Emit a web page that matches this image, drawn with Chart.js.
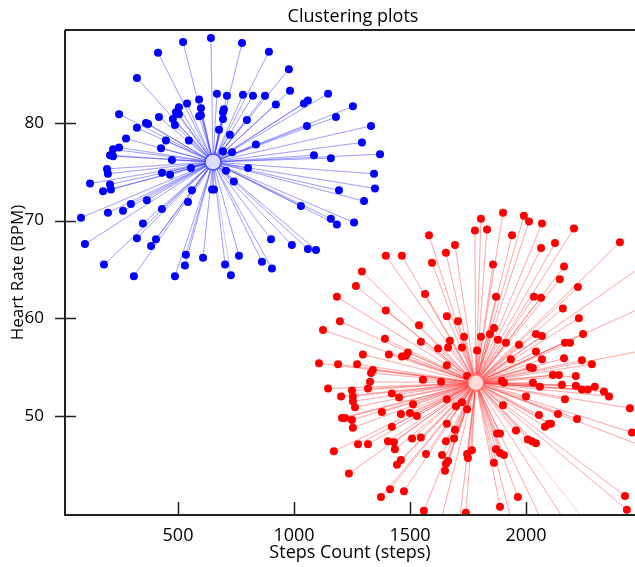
<!DOCTYPE html>
<html lang="en">
<head>
<meta charset="UTF-8">
<title>Clustering plots</title>
<script src="https://cdn.jsdelivr.net/npm/chart.js"></script>
<style>
    body { margin: 0; padding: 0; background: #fff; }
    #chart { display: block; }
</style>
</head>
<body>
<canvas id="chart" width="635" height="567"></canvas>
<script>
    // cluster 1 (blue)
    const blueSteps = [522,642,414,323,668,539,591,599,504,491,
        504,478,487,418,362,371,323,246,591,599,
        677,448,547,276,246,220,427,207,220,474,
        776,892,978,711,780,823,875,983,1147,922,
        1043,1060,1254,698,694,694,797,1181,1056,1332,
        724,836,1293,694,733,1086,1159,1371,194,198,
        431,466,556,121,207,211,177,560,647,655,
        366,297,543,198,263,431,82,349,323,405,
        384,99,534,608,530,181,310,487,802,707,
        1345,741,1349,1194,1302,1030,1159,1185,1259,901,
        991,1060,1095,763,703,862,905,728];
    const blueHeart = [88.3,88.7,87.2,84.6,83.0,82.0,82.4,81.5,81.6,81.1,
        80.9,80.4,79.8,80.6,80.0,79.9,79.5,80.9,80.7,80.8,
        79.3,78.2,78.2,78.4,77.5,77.3,77.4,76.7,76.6,76.2,
        88.2,87.3,85.5,82.8,82.9,82.8,82.8,83.3,83.0,81.9,
        82.0,82.3,81.7,81.4,81.1,80.4,80.3,80.6,79.7,79.7,
        78.8,77.8,78.0,77.1,77.0,76.7,76.4,76.8,75.3,74.8,
        74.9,74.7,75.4,73.8,73.7,73.2,73.0,73.1,73.2,73.2,
        72.1,71.7,71.9,70.8,71.0,71.2,70.3,69.7,68.2,68.1,
        67.4,67.6,66.5,66.2,65.4,65.5,64.3,64.3,75.4,75.1,
        74.8,74.0,73.3,73.1,72.0,71.5,70.2,69.6,69.8,68.1,
        67.5,67.1,67.0,66.4,65.5,65.8,65.1,64.4];

    // cluster 2 (red), a few fall outside the axes
    const redSteps = [1582,1694,1655,1595,1396,1465,1293,1267,1185,1565,
        1396,1659,1707,1198,1125,1539,1733,1392,1547,1672,
        1621,1664,1724,1297,1409,1465,1483,1491,1901,1806,
        1780,1832,1991,2013,2069,1940,2207,2125,2065,2405,
        1858,2164,2146,2224,1871,2034,2065,2159,2228,1862,
        1845,1806,1879,1914,1970,2043,2069,2246,2168,2190,
        1789,2043,2069,1935,2164,2241,1108,1190,1272,1659,
        1340,1332,1328,1556,1634,1746,1147,1319,1250,1254,
        1203,1254,1263,1422,1453,1659,1513,1698,1724,1746,
        1379,1461,1500,1530,1207,1220,1250,1254,1422,1659,
        1694,1509,1547,1690,1655,1405,1431,1276,1319,1435,
        1172,1569,1638,1746,1750,1461,1444,1664,1655,1651,
        1237,1414,1474,1375,1560,1741,2284,2017,2030,2116,
        2142,2215,1896,1905,2030,2060,2155,2215,2241,2267,
        2297,2336,2358,2000,2168,1901,2448,2056,2138,2220,
        2082,2099,2108,1957,1875,1888,2457,2008,2026,2043,
        1871,1767,1888,1905,1862,1965,1888,2427,2435,
        2660,2660,2660,2660,1612,1702,1957,2110,2213,2330];
    const redHeart = [68.5,67.5,66.7,65.7,66.4,66.4,64.8,63.3,62.2,62.5,
        60.8,60.2,59.7,59.7,58.8,59.3,58.1,57.9,57.6,57.7,
        56.9,57.0,57.0,56.3,56.3,56.1,56.2,56.5,70.8,70.2,
        69.0,69.1,70.5,69.9,69.7,68.5,69.2,67.7,67.2,67.8,
        65.5,65.3,64.0,63.2,62.2,62.2,62.1,61.0,60.0,59.0,
        58.4,58.1,57.8,57.5,57.3,58.4,58.2,58.4,57.5,57.5,
        56.7,56.6,55.8,55.8,55.9,55.7,55.4,55.3,55.3,55.2,
        54.7,54.4,53.5,53.7,53.5,54.1,52.8,52.8,52.6,52.0,
        52.0,51.5,50.9,52.3,51.9,51.7,51.2,51.0,51.4,50.7,
        50.4,50.2,50.3,50.0,49.8,49.8,49.6,48.8,48.9,49.2,
        48.6,47.7,47.8,47.7,47.4,47.4,47.3,47.1,47.1,46.6,
        46.4,46.1,46.0,46.1,45.7,45.5,45.0,45.4,45.1,44.4,
        44.1,42.5,42.3,41.7,40.3,40.1,55.3,55.0,54.9,54.2,
        54.2,54.1,53.6,53.4,53.4,53.0,53.2,53.1,52.7,52.7,
        53.0,52.5,52.0,52.0,51.7,51.1,50.8,50.1,50.2,49.7,
        48.9,49.2,49.2,48.5,48.2,48.2,48.3,47.6,47.4,47.2,
        46.6,46.5,46.2,46.0,45.2,41.7,40.7,41.8,40.4,
        68.0,62.8,57.4,45.5,37.3,37.0,37.5,37.2,37.6,37.0];

    const centroidSteps = [651, 1784];
    const centroidHeart = [76.0, 53.4];

    const xTicks = [500, 1000, 1500, 2000];
    const yTicks = [50, 60, 70, 80];

    function points(xs, ys) {
        return xs.map((x, i) => ({ x: x, y: ys[i] }));
    }

    // centre -> point -> centre -> point ... gives the spokes
    function spokes(xs, ys, k) {
        const c = { x: centroidSteps[k], y: centroidHeart[k] };
        const out = [];
        xs.forEach((x, i) => { out.push(c); out.push({ x: x, y: ys[i] }); });
        return out;
    }

    Chart.defaults.font.family = '"Open Sans", sans-serif';
    Chart.defaults.font.size = 18;
    Chart.defaults.color = '#000';

    const frame = {
        id: 'frame',
        afterDatasetsDraw(chart) {
            const { ctx, chartArea: a, scales } = chart;
            ctx.save();
            ctx.strokeStyle = '#222';
            ctx.lineWidth = 2;
            ctx.beginPath();
            ctx.moveTo(a.left, a.top); ctx.lineTo(a.right, a.top);
            ctx.moveTo(a.left, a.top); ctx.lineTo(a.left, a.bottom);
            ctx.moveTo(a.left - 1, a.bottom); ctx.lineTo(a.right, a.bottom);
            ctx.stroke();
            ctx.lineWidth = 1.5;
            ctx.beginPath();
            scales.x.ticks.forEach(t => {
                const px = Math.round(scales.x.getPixelForValue(t.value)) + 0.5;
                ctx.moveTo(px, a.bottom - 13); ctx.lineTo(px, a.bottom);
            });
            scales.y.ticks.forEach(t => {
                const py = Math.round(scales.y.getPixelForValue(t.value)) + 0.5;
                ctx.moveTo(a.left - 10, py); ctx.lineTo(a.left + 11, py);
            });
            ctx.stroke();
            ctx.restore();
        },
        afterDraw(chart) {
            const { ctx, chartArea: a } = chart;
            ctx.save();
            ctx.font = '18px "Open Sans", sans-serif';
            ctx.fillStyle = '#000';
            ctx.textAlign = 'center';
            ctx.textBaseline = 'middle';
            ctx.fillText('Clustering plots', (a.left + a.right) / 2 + 3, 17);
            ctx.restore();
        }
    };

    new Chart(document.getElementById('chart'), {
        type: 'scatter',
        data: {
            datasets: [
                {
                    label: 'centroids',
                    data: points(centroidSteps, centroidHeart),
                    pointRadius: 8,
                    pointBorderWidth: 1.5,
                    backgroundColor: ['#dcdcff', '#ffd8d8'],
                    borderColor: ['#4a4aff', '#ff6a6a'],
                    order: 0
                },
                {
                    label: 'cluster 1',
                    data: points(blueSteps, blueHeart),
                    pointRadius: 4,
                    pointBorderWidth: 0,
                    backgroundColor: '#0000ff',
                    borderColor: '#0000ff',
                    order: 1
                },
                {
                    label: 'cluster 2',
                    data: points(redSteps, redHeart),
                    pointRadius: 4,
                    pointBorderWidth: 0,
                    backgroundColor: '#ff0000',
                    borderColor: '#ff0000',
                    order: 1
                },
                {
                    label: 'spokes 1',
                    data: spokes(blueSteps, blueHeart, 0),
                    showLine: true,
                    pointRadius: 0,
                    borderWidth: 1,
                    borderColor: 'rgba(60,60,255,0.28)',
                    order: 2
                },
                {
                    label: 'spokes 2',
                    data: spokes(redSteps, redHeart, 1),
                    showLine: true,
                    pointRadius: 0,
                    borderWidth: 1,
                    borderColor: 'rgba(255,60,60,0.25)',
                    order: 2
                }
            ]
        },
        options: {
            responsive: false,
            animation: false,
            layout: { autoPadding: false, padding: { top: 30, right: 0, left: 0, bottom: 0 } },
            plugins: {
                legend: { display: false },
                tooltip: { enabled: false }
            },
            scales: {
                x: {
                    min: 13,
                    max: 2470,
                    afterBuildTicks: s => { s.ticks = xTicks.map(v => ({ value: v })); },
                    afterFit: s => { s.height = 52; s.paddingLeft = 0; s.paddingRight = 0; },
                    grid: { display: false },
                    border: { display: false },
                    ticks: { padding: 2, maxRotation: 0, callback: v => String(v) },
                    title: { display: true, text: 'Steps Count (steps)', padding: { top: 0, bottom: 3 } }
                },
                y: {
                    min: 39.86,
                    max: 89.52,
                    afterBuildTicks: s => { s.ticks = yTicks.map(v => ({ value: v })); },
                    afterFit: s => { s.width = 65; s.paddingTop = 0; s.paddingBottom = 0; },
                    grid: { display: false },
                    border: { display: false },
                    ticks: { padding: 13, font: { size: 17 }, callback: v => String(v) },
                    title: { display: true, text: 'Heart Rate (BPM)', font: { size: 17 }, padding: { top: 8, bottom: 0 } }
                }
            }
        },
        plugins: [frame]
    });
</script>
</body>
</html>
